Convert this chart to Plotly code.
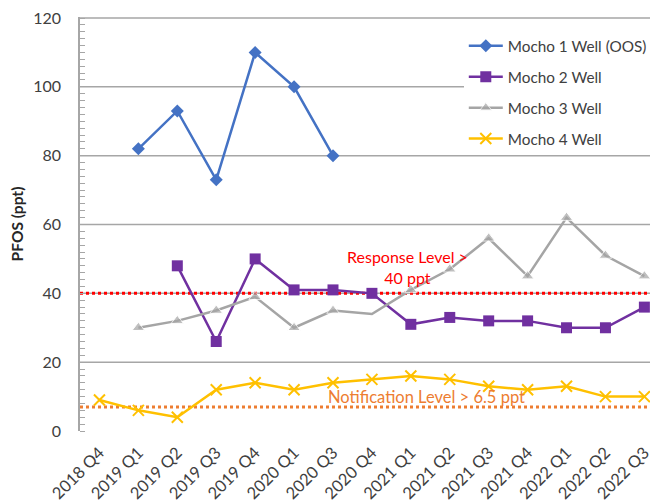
import plotly.graph_objects as go

quarters = ["2018 Q4", "2019 Q1", "2019 Q2", "2019 Q3", "2019 Q4", "2020 Q1", "2020 Q3",
            "2020 Q4", "2021 Q1", "2021 Q2", "2021 Q3", "2021 Q4", "2022 Q1", "2022 Q2", "2022 Q3"]

mocho1 = [None, 82, 93, 73, 110, 100, 80, None, None, None, None, None, None, None, None]
mocho2 = [None, None, 48, 26, 50, 41, 41, 40, 31, 33, 32, 32, 30, 30, 36]
mocho3 = [None, 30, 32, 35, 39, 30, 35, 34, 41, 47, 56, 45, 62, 51, 45]
mocho4 = [9, 6, 4, 12, 14, 12, 14, 15, 16, 15, 13, 12, 13, 10, 10]

response_level = 40
notification_level = 7

y_ticks = [0, 20, 40, 60, 80, 100, 120]

FONT = "Lato"
GRID = "#A6A6A6"

fig = go.Figure()

fig.add_trace(go.Scatter(x=quarters, y=mocho1, name="Mocho 1 Well (OOS)", mode="lines+markers",
                         line=dict(color="#4472C4", width=2.5),
                         marker=dict(symbol="diamond", size=10, color="#4472C4"),
                         legendgroup="a"))
fig.add_trace(go.Scatter(x=quarters, y=mocho2, name="Mocho 2 Well", mode="lines+markers",
                         line=dict(color="#7030A0", width=2.5),
                         marker=dict(symbol="square", size=11, color="#7030A0"),
                         legendgroup="b"))
m3_sizes = [0 if q == "2020 Q4" else 11 for q in quarters]
fig.add_trace(go.Scatter(x=quarters, y=mocho3, name="Mocho 3 Well", mode="lines+markers",
                         line=dict(color="#A5A5A5", width=2.5),
                         marker=dict(symbol="triangle-up", size=m3_sizes, color="#A5A5A5"),
                         legendgroup="c"))
fig.add_trace(go.Scatter(x=quarters, y=mocho4, name="Mocho 4 Well", mode="lines+markers",
                         line=dict(color="#FFC000", width=2.5),
                         marker=dict(symbol="x-thin", size=11, color="#FFC000",
                                     line=dict(color="#FFC000", width=2)),
                         legendgroup="d"))

# gridlines as shapes so that the reference lines can sit above them but below the data
for v in y_ticks[1:]:
    fig.add_shape(type="line", xref="x domain", yref="y", x0=0, x1=1, y0=v, y1=v,
                  line=dict(color=GRID, width=1.5), layer="below")
fig.add_hline(y=response_level, line=dict(color="#FF0000", width=3, dash="dot"), layer="below")
fig.add_hline(y=notification_level, line=dict(color="#ED7D31", width=3, dash="dot"), layer="below")

fig.add_annotation(x=7.92, y=47.7, xref="x", yref="y",
                   text=f"Response Level ><br>{response_level} ppt", showarrow=False,
                   font=dict(family=FONT, size=16, color="#FF0000"), align="center")
fig.add_annotation(x=8.4, y=10.0, xref="x", yref="y",
                   text="Notification Level > 6.5 ppt", showarrow=False,
                   font=dict(family=FONT, size=16.5, color="#ED7D31"), align="center")

fig.update_layout(
    width=650, height=496,
    margin=dict(l=72, r=0, t=9, b=73, autoexpand=False),
    paper_bgcolor="white", plot_bgcolor="white",
    font=dict(family=FONT, size=15, color="#404040"),
    showlegend=True,
    legend=dict(x=0.664, y=0.97, xanchor="left", yanchor="top",
                bgcolor="white", font=dict(family=FONT, size=15.3, color="#404040"),
                tracegroupgap=8, itemwidth=34),
    xaxis=dict(type="category", categoryorder="array", categoryarray=quarters,
               range=[-0.5, 14.35], tickangle=-45, showgrid=False, automargin=False,
               showline=False, ticks="", ticklabelstandoff=8,
               tickfont=dict(family=FONT, size=16.5, color="#404040"),
               zeroline=False),
    yaxis=dict(range=[0, 120.3], tickvals=y_ticks, showgrid=False, ticklabeloverflow="allow",
               showline=True, linecolor=GRID, linewidth=1.5, zeroline=False, automargin=False,
               ticks="", ticklabelstandoff=14,
               minor=dict(dtick=2, ticks="inside", ticklen=5, tickcolor=GRID, tickwidth=1, showgrid=False),
               title=dict(text="<b>PFOS (ppt)</b>", font=dict(family=FONT, size=15.5, color="#262626"),
                          standoff=8),
               tickfont=dict(family=FONT, size=16, color="#404040")),
)

fig.write_html("out.html")
